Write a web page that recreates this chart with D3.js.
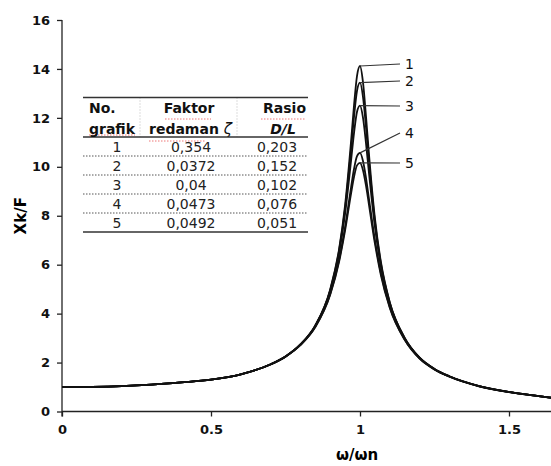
<!DOCTYPE html>
<html>
<head>
<meta charset="utf-8">
<script src="https://cdn.jsdelivr.net/npm/d3@7"></script>
<style>
  html, body { margin: 0; padding: 0; background: #fff; }
  svg { display: block; }
</style>
</head>
<body>
<div id="chart"></div>
<script>
// frequency ratio samples
var ratio = [0, 0.1, 0.2, 0.3, 0.4, 0.5, 0.6, 0.7, 0.75, 0.8, 0.85, 0.9, 0.93, 0.95, 0.97, 0.98, 0.99,
             1.0, 1.01, 1.02, 1.03, 1.05, 1.07, 1.1, 1.15, 1.2, 1.25, 1.3, 1.4, 1.5, 1.6, 1.65];

// Xk/F for the five graphs
var graph1 = [1, 1.01, 1.04, 1.1, 1.19, 1.3, 1.52, 1.93, 2.25, 2.74, 3.52, 4.99, 6.65, 8.44, 11.04, 12.52, 13.72,
              14.12, 13.46, 12.08, 10.53, 7.9, 6.12, 4.46, 3.01, 2.2, 1.74, 1.44, 1.04, 0.8, 0.63, 0.55];
var graph2 = [1, 1.01, 1.04, 1.1, 1.19, 1.3, 1.52, 1.93, 2.25, 2.74, 3.51, 4.96, 6.59, 8.3, 10.72, 12.05, 13.11,
              13.44, 12.86, 11.63, 10.22, 7.76, 6.05, 4.44, 3.0, 2.2, 1.74, 1.44, 1.04, 0.8, 0.63, 0.55];
var graph3 = [1, 1.01, 1.04, 1.1, 1.19, 1.3, 1.52, 1.93, 2.25, 2.73, 3.5, 4.92, 6.48, 8.09, 10.25, 11.39, 12.25,
              12.5, 12.01, 10.98, 9.76, 7.55, 5.94, 4.39, 2.98, 2.19, 1.73, 1.43, 1.04, 0.8, 0.63, 0.55];
var graph4 = [1, 1.01, 1.04, 1.1, 1.19, 1.3, 1.52, 1.92, 2.24, 2.72, 3.46, 4.8, 6.2, 7.54, 9.16, 9.92, 10.44,
              10.57, 10.24, 9.56, 8.7, 7.01, 5.66, 4.27, 2.94, 2.17, 1.72, 1.43, 1.03, 0.79, 0.63, 0.55];
var graph5 = [1, 1.01, 1.04, 1.1, 1.19, 1.3, 1.52, 1.92, 2.24, 2.71, 3.45, 4.77, 6.13, 7.4, 8.91, 9.59, 10.06,
              10.16, 9.86, 9.24, 8.46, 6.87, 5.58, 4.23, 2.93, 2.16, 1.72, 1.42, 1.03, 0.79, 0.63, 0.55];

var graphNames = ["1", "2", "3", "4", "5"];

var xTicks = [0, 0.5, 1, 1.5];
var yTicks = [0, 2, 4, 6, 8, 10, 12, 14, 16];

// inset table
var tableNo = ["1", "2", "3", "4", "5"];
var tableZeta = ["0,354", "0,0372", "0,04", "0,0473", "0,0492"];
var tableDL = ["0,203", "0,152", "0,102", "0,076", "0,051"];

var width = 551,
    height = 466;

var svg = d3.select("#chart").append("svg")
    .attr("width", width)
    .attr("height", height);

var x = d3.scaleLinear()
    .domain([0, 1])
    .range([62, 360]);

var y = d3.scaleLinear()
    .domain([0, 16])
    .range([411.5, 20]);

// axes
var xAxis = svg.append("g")
    .attr("transform", "translate(0," + y(0) + ")")
    .call(d3.axisBottom(x).tickValues(xTicks).tickSize(5).tickPadding(8)
        .tickFormat(d3.format("")));

xAxis.select(".domain").attr("d", "M" + x(0) + ",0H" + width);

var yAxis = svg.append("g")
    .attr("transform", "translate(" + x(0) + ",0)")
    .call(d3.axisLeft(y).tickValues(yTicks).tickSize(5).tickPadding(7));

yAxis.select(".domain").attr("d", "M0," + y(16) + "V" + (y(0) + 5));

svg.selectAll(".tick text")
    .style("font", "bold 13px 'DejaVu Sans'")
    .style("fill", "#111");
svg.selectAll(".domain, .tick line")
    .style("stroke", "#222")
    .style("stroke-width", 1.3);

svg.append("text")
    .attr("transform", "translate(26," + y(8) + ") rotate(-90)")
    .attr("text-anchor", "middle")
    .style("font", "bold 15px 'DejaVu Sans'")
    .text("Xk/F");

svg.append("text")
    .attr("x", 357)
    .attr("y", 460)
    .attr("text-anchor", "middle")
    .style("font", "bold 15px 'DejaVu Sans'")
    .text("ω/ωn");

// curves
var series = [graph1, graph2, graph3, graph4, graph5];

var line = d3.line()
    .curve(d3.curveMonotoneX)
    .x(function(d, i) { return x(ratio[i]); })
    .y(function(d) { return y(d); });

svg.selectAll(".curve")
    .data(series)
    .enter()
    .append("path")
    .attr("class", "curve")
    .attr("d", line)
    .style("fill", "none")
    .style("stroke", "#111")
    .style("stroke-width", 1.8);

// curve labels with leader lines
var labelX = 400,
    labelY = [64, 81, 106, 133, 163];

series.forEach(function(s, k) {
    var peak = d3.max(s),
        px = x(ratio[s.indexOf(peak)]);
    svg.append("line")
        .attr("x1", px)
        .attr("y1", y(peak))
        .attr("x2", labelX)
        .attr("y2", labelY[k])
        .style("stroke", "#333")
        .style("stroke-width", 1.2);
    svg.append("text")
        .attr("x", labelX + 5)
        .attr("y", labelY[k])
        .attr("dy", "0.36em")
        .style("font", "14px 'DejaVu Sans'")
        .style("fill", "#111")
        .text(graphNames[k]);
});

// table
var tbl = svg.append("g");
var tLeft = 83, tRight = 308, tTop = 97.5, tHead = 137, rowH = 19;
var colX = [117, 191, 277];

tbl.selectAll(".vsep")
    .data([140, 237])
    .enter()
    .append("line")
    .attr("x1", function(d) { return d; })
    .attr("x2", function(d) { return d; })
    .attr("y1", tTop)
    .attr("y2", tHead)
    .style("stroke", "#bbb")
    .style("stroke-dasharray", "1,2");

[tTop, tHead, tHead + rowH * tableNo.length].forEach(function(yy) {
    tbl.append("line")
        .attr("x1", tLeft).attr("x2", tRight)
        .attr("y1", yy).attr("y2", yy)
        .style("stroke", "#333")
        .style("stroke-width", 1.4);
});

d3.range(1, tableNo.length).forEach(function(i) {
    tbl.append("line")
        .attr("x1", tLeft).attr("x2", tRight)
        .attr("y1", tHead + rowH * i).attr("y2", tHead + rowH * i)
        .style("stroke", "#555")
        .style("stroke-dasharray", "1.5,1.5");
});

// spell-check squiggles
[[89, 135, 46], [165, 119, 46], [149, 141, 57], [261, 119, 44]].forEach(function(u) {
    tbl.append("line")
        .attr("x1", u[0]).attr("x2", u[0] + u[2])
        .attr("y1", u[1]).attr("y2", u[1])
        .style("stroke", "#e77")
        .style("stroke-width", 1)
        .style("stroke-dasharray", "1.5,1.5");
});

var headFont = "bold 14px 'DejaVu Sans'";
function head(tx, ty, anchor, txt, font) {
    return tbl.append("text")
        .attr("x", tx).attr("y", ty)
        .attr("text-anchor", anchor)
        .style("font", font || headFont)
        .style("fill", "#111")
        .text(txt);
}
head(89, 113, "start", "No.");
head(89, 134, "start", "grafik");
head(189, 113, "middle", "Faktor");
var red = head(149, 134, "start", "redaman ");
red.append("tspan")
    .style("font", "italic 15px 'DejaVu Sans'")
    .text("ζ");
head(306, 113, "end", "Rasio");
head(283, 134, "middle", "D/L", "bold italic 14px 'DejaVu Sans'");

var rowsG = tbl.selectAll(".row")
    .data(tableNo)
    .enter()
    .append("g")
    .attr("transform", function(d, i) {
        return "translate(0," + (tHead + rowH * i + rowH / 2) + ")";
    });

[tableNo, tableZeta, tableDL].forEach(function(col, c) {
    rowsG.append("text")
        .attr("x", colX[c])
        .attr("dy", "0.36em")
        .attr("text-anchor", "middle")
        .style("font", "14px 'DejaVu Sans'")
        .style("fill", "#222")
        .text(function(d, i) { return col[i]; });
});
</script>
</body>
</html>
